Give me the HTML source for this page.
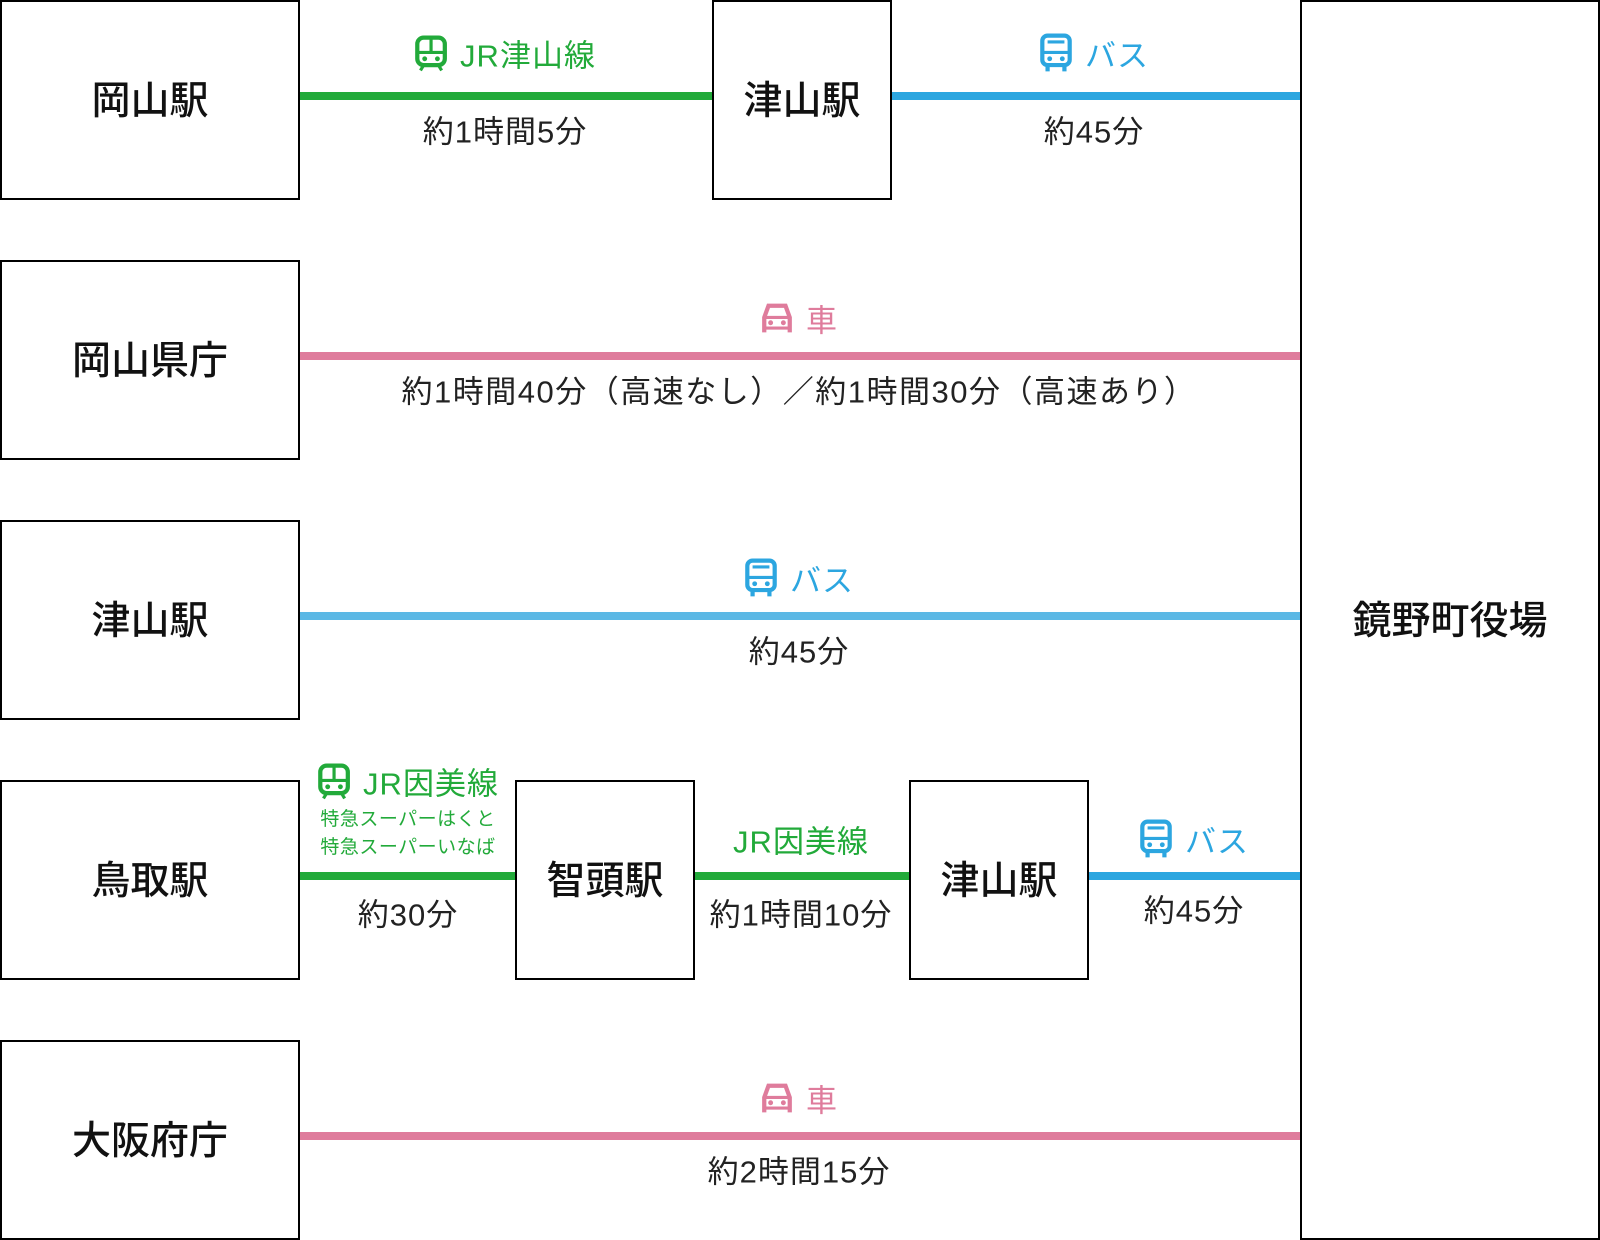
<!DOCTYPE html>
<html><head><meta charset="utf-8"><style>
body{margin:0;width:1600px;height:1240px;position:relative;background:#fff;font-family:"Liberation Sans","Noto Sans CJK JP",sans-serif;overflow:hidden}
.b{position:absolute;border:2px solid #000;box-sizing:border-box;display:flex;align-items:center;justify-content:center;font-size:39px;color:#111;font-weight:500;padding-bottom:4px}
.l{position:absolute;height:8px}
.t{position:absolute;transform:translate(-50%,-50%);white-space:nowrap;font-size:31px;letter-spacing:1px;color:#222;display:flex;align-items:center;gap:12px}
.g{color:#22aa3a}.bl{color:#2ca6e0}.p{color:#df7c9c}
.s{font-size:19px;line-height:28px;color:#22aa3a;display:block;text-align:left;letter-spacing:0.5px}
svg{display:block}
</style></head><body>
<div class="b" style="left:0;top:0;width:300px;height:200px">岡山駅</div>
<div class="b" style="left:0;top:260px;width:300px;height:200px">岡山県庁</div>
<div class="b" style="left:0;top:520px;width:300px;height:200px">津山駅</div>
<div class="b" style="left:0;top:780px;width:300px;height:200px">鳥取駅</div>
<div class="b" style="left:0;top:1040px;width:300px;height:200px">大阪府庁</div>
<div class="b" style="left:1300px;top:0;width:300px;height:1240px">鏡野町役場</div>
<div class="b" style="left:712px;top:0;width:180px;height:200px">津山駅</div>
<div class="b" style="left:515px;top:780px;width:180px;height:200px">智頭駅</div>
<div class="b" style="left:909px;top:780px;width:180px;height:200px">津山駅</div>
<div class="l" style="left:300px;top:92px;width:412px;background:#22aa3a"></div>
<div class="l" style="left:892px;top:92px;width:408px;background:#2ca6e0"></div>
<div class="l" style="left:300px;top:352px;width:1000px;background:#df7c9c"></div>
<div class="l" style="left:300px;top:612px;width:1000px;background:#5bb8e5"></div>
<div class="l" style="left:300px;top:872px;width:215px;background:#22aa3a"></div>
<div class="l" style="left:695px;top:872px;width:214px;background:#22aa3a"></div>
<div class="l" style="left:1089px;top:872px;width:211px;background:#2ca6e0"></div>
<div class="l" style="left:300px;top:1132px;width:1000px;background:#df7c9c"></div>
<div class="t g" style="left:505px;top:53px"><svg width="34" height="36" viewBox="0 0 32 34"><rect x="3" y="2" width="26" height="26" rx="6" fill="none" stroke="#22aa3a" stroke-width="4"/><line x1="3" y1="16" x2="29" y2="16" stroke="#22aa3a" stroke-width="3"/><line x1="16" y1="2" x2="16" y2="16" stroke="#22aa3a" stroke-width="3"/><circle cx="10" cy="22" r="2.3" fill="#22aa3a"/><circle cx="22" cy="22" r="2.3" fill="#22aa3a"/><path d="M9 28 L6 33 M23 28 L26 33" stroke="#22aa3a" stroke-width="3"/></svg>JR津山線</div>
<div class="t" style="left:505px;top:129px">約1時間5分</div>
<div class="t bl" style="left:1094px;top:53px"><svg width="34" height="40" viewBox="0 0 32 38"><rect x="3" y="2" width="26" height="28" rx="5" fill="none" stroke="#2ca6e0" stroke-width="4"/><line x1="3" y1="18" x2="29" y2="18" stroke="#2ca6e0" stroke-width="3"/><line x1="8" y1="8" x2="24" y2="8" stroke="#2ca6e0" stroke-width="3"/><circle cx="10" cy="24" r="2.3" fill="#2ca6e0"/><circle cx="22" cy="24" r="2.3" fill="#2ca6e0"/><path d="M8 30 V36 M24 30 V36" stroke="#2ca6e0" stroke-width="4"/></svg>バス</div>
<div class="t" style="left:1094px;top:129px">約45分</div>
<div class="t p" style="left:799px;top:318px"><svg width="34" height="32" viewBox="0 0 32 30"><path d="M4 28 V14 L8 3 H24 L28 14 V28" fill="none" stroke="#df7c9c" stroke-width="4"/><line x1="4" y1="14" x2="28" y2="14" stroke="#df7c9c" stroke-width="3"/><line x1="4" y1="24" x2="28" y2="24" stroke="#df7c9c" stroke-width="3"/><circle cx="10" cy="19" r="2.3" fill="#df7c9c"/><circle cx="22" cy="19" r="2.3" fill="#df7c9c"/></svg>車</div>
<div class="t" style="left:799px;top:389px;letter-spacing:1.5px">約1時間40分（高速なし）／約1時間30分（高速あり）</div>
<div class="t bl" style="left:799px;top:578px"><svg width="34" height="40" viewBox="0 0 32 38"><rect x="3" y="2" width="26" height="28" rx="5" fill="none" stroke="#2ca6e0" stroke-width="4"/><line x1="3" y1="18" x2="29" y2="18" stroke="#2ca6e0" stroke-width="3"/><line x1="8" y1="8" x2="24" y2="8" stroke="#2ca6e0" stroke-width="3"/><circle cx="10" cy="24" r="2.3" fill="#2ca6e0"/><circle cx="22" cy="24" r="2.3" fill="#2ca6e0"/><path d="M8 30 V36 M24 30 V36" stroke="#2ca6e0" stroke-width="4"/></svg>バス</div>
<div class="t" style="left:799px;top:649px">約45分</div>
<div class="t g" style="left:408px;top:781px"><svg width="34" height="36" viewBox="0 0 32 34"><rect x="3" y="2" width="26" height="26" rx="6" fill="none" stroke="#22aa3a" stroke-width="4"/><line x1="3" y1="16" x2="29" y2="16" stroke="#22aa3a" stroke-width="3"/><line x1="16" y1="2" x2="16" y2="16" stroke="#22aa3a" stroke-width="3"/><circle cx="10" cy="22" r="2.3" fill="#22aa3a"/><circle cx="22" cy="22" r="2.3" fill="#22aa3a"/><path d="M9 28 L6 33 M23 28 L26 33" stroke="#22aa3a" stroke-width="3"/></svg>JR因美線</div>
<div class="t" style="left:408px;top:834px"><span class="s">特急スーパーはくと<br>特急スーパーいなば</span></div>
<div class="t" style="left:408px;top:912px">約30分</div>
<div class="t g" style="left:801px;top:839px">JR因美線</div>
<div class="t" style="left:801px;top:912px">約1時間10分</div>
<div class="t bl" style="left:1194px;top:839px"><svg width="34" height="40" viewBox="0 0 32 38"><rect x="3" y="2" width="26" height="28" rx="5" fill="none" stroke="#2ca6e0" stroke-width="4"/><line x1="3" y1="18" x2="29" y2="18" stroke="#2ca6e0" stroke-width="3"/><line x1="8" y1="8" x2="24" y2="8" stroke="#2ca6e0" stroke-width="3"/><circle cx="10" cy="24" r="2.3" fill="#2ca6e0"/><circle cx="22" cy="24" r="2.3" fill="#2ca6e0"/><path d="M8 30 V36 M24 30 V36" stroke="#2ca6e0" stroke-width="4"/></svg>バス</div>
<div class="t" style="left:1194px;top:908px">約45分</div>
<div class="t p" style="left:799px;top:1098px"><svg width="34" height="32" viewBox="0 0 32 30"><path d="M4 28 V14 L8 3 H24 L28 14 V28" fill="none" stroke="#df7c9c" stroke-width="4"/><line x1="4" y1="14" x2="28" y2="14" stroke="#df7c9c" stroke-width="3"/><line x1="4" y1="24" x2="28" y2="24" stroke="#df7c9c" stroke-width="3"/><circle cx="10" cy="19" r="2.3" fill="#df7c9c"/><circle cx="22" cy="19" r="2.3" fill="#df7c9c"/></svg>車</div>
<div class="t" style="left:799px;top:1169px">約2時間15分</div>
</body></html>
